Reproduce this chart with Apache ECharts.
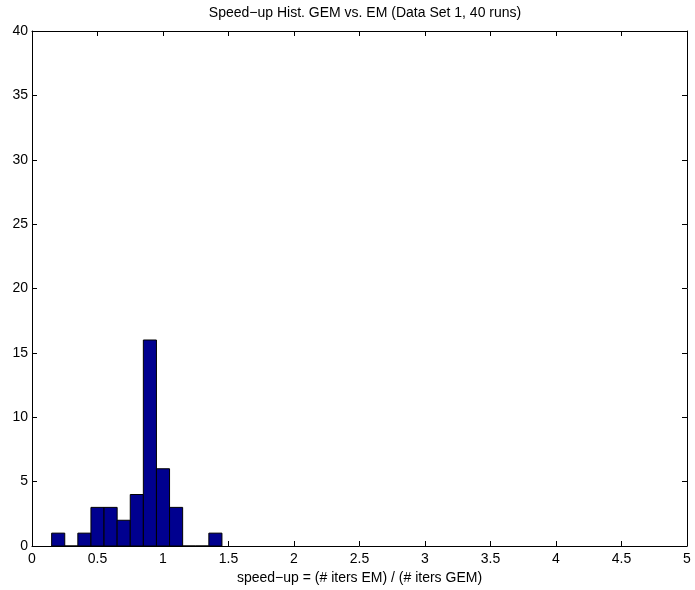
<!DOCTYPE html>
<html>
<head>
<meta charset="utf-8">
<script src="https://cdn.jsdelivr.net/npm/echarts@6/dist/echarts.min.js"></script>
<style>
  html, body { margin: 0; padding: 0; background: #fff; }
  #chart { width: 695px; height: 590px; }
</style>
</head>
<body>
<div id="chart"></div>
<script>
// histogram bins (centres), width 0.1
var binCenters = [0.2, 0.3, 0.4, 0.5, 0.6, 0.7, 0.8, 0.9, 1.0, 1.1, 1.2, 1.3, 1.4]
var binCounts = [1, 0, 1, 3, 3, 2, 4, 16, 6, 3, 0, 0, 1]
var binWidth = 0.1
var xTicks = [0, 0.5, 1, 1.5, 2, 2.5, 3, 3.5, 4, 4.5, 5]
var yTicks = [0, 5, 10, 15, 20, 25, 30, 35, 40]

var chart = echarts.init(document.getElementById('chart'))

var font = 'Liberation Sans, Arial, sans-serif'
var axisCommon = {
  axisLine: { show: true, onZero: false, lineStyle: { color: '#000', width: 1 } },
  axisTick: { show: true, inside: true, length: 5, lineStyle: { color: '#000' } },
  splitLine: { show: false },
}

var data = binCenters.map(function (c, i) { return [c, binCounts[i]] })

chart.setOption({
  animation: false,
  title: {
    text: 'Speed\u2212up Hist. GEM vs. EM (Data Set 1, 40 runs)',
    left: 360,
    textAlign: 'center',
    top: 1,
    textStyle: { fontFamily: font, fontSize: 14, fontWeight: 'normal', color: '#000' },
  },
  grid: { left: 32, right: 8, top: 31, bottom: 43 },
  xAxis: [
    Object.assign({}, axisCommon, {
      type: 'value', min: 0, max: 5, interval: 0.5,
      name: 'speed\u2212up = (# iters EM) / (# iters GEM)',
      nameLocation: 'middle', nameGap: 25,
      nameTextStyle: { fontFamily: font, fontSize: 14, color: '#000' },
      axisLabel: {
        fontFamily: font, fontSize: 14, color: '#000', margin: 6,
        formatter: function (v) { return xTicks.indexOf(v) >= 0 ? String(v) : '' },
      },
    }),
    Object.assign({}, axisCommon, {
      type: 'value', min: 0, max: 5, interval: 0.5, position: 'top',
      axisLabel: { show: false },
    }),
  ],
  yAxis: [
    Object.assign({}, axisCommon, {
      type: 'value', min: 0, max: 40, interval: 5,
      axisLabel: {
        fontFamily: font, fontSize: 14, color: '#000', margin: 4,
        formatter: function (v) { return yTicks.indexOf(v) >= 0 ? String(v) : '' },
      },
    }),
    Object.assign({}, axisCommon, {
      type: 'value', min: 0, max: 40, interval: 5, position: 'right',
      axisLabel: { show: false },
    }),
  ],
  series: [{
    type: 'custom',
    xAxisIndex: 0,
    yAxisIndex: 0,
    data: data,
    renderItem: function (params, api) {
      var c = api.value(0)
      var h = api.value(1)
      var p0 = api.coord([c - binWidth / 2, 0])
      var p1 = api.coord([c + binWidth / 2, h])
      return {
        type: 'rect',
        shape: { x: p0[0], y: p1[1], width: p1[0] - p0[0], height: p0[1] - p1[1] },
        style: { fill: '#00008f', stroke: '#000', lineWidth: 1 },
      }
    },
  }],
})
</script>
</body>
</html>
